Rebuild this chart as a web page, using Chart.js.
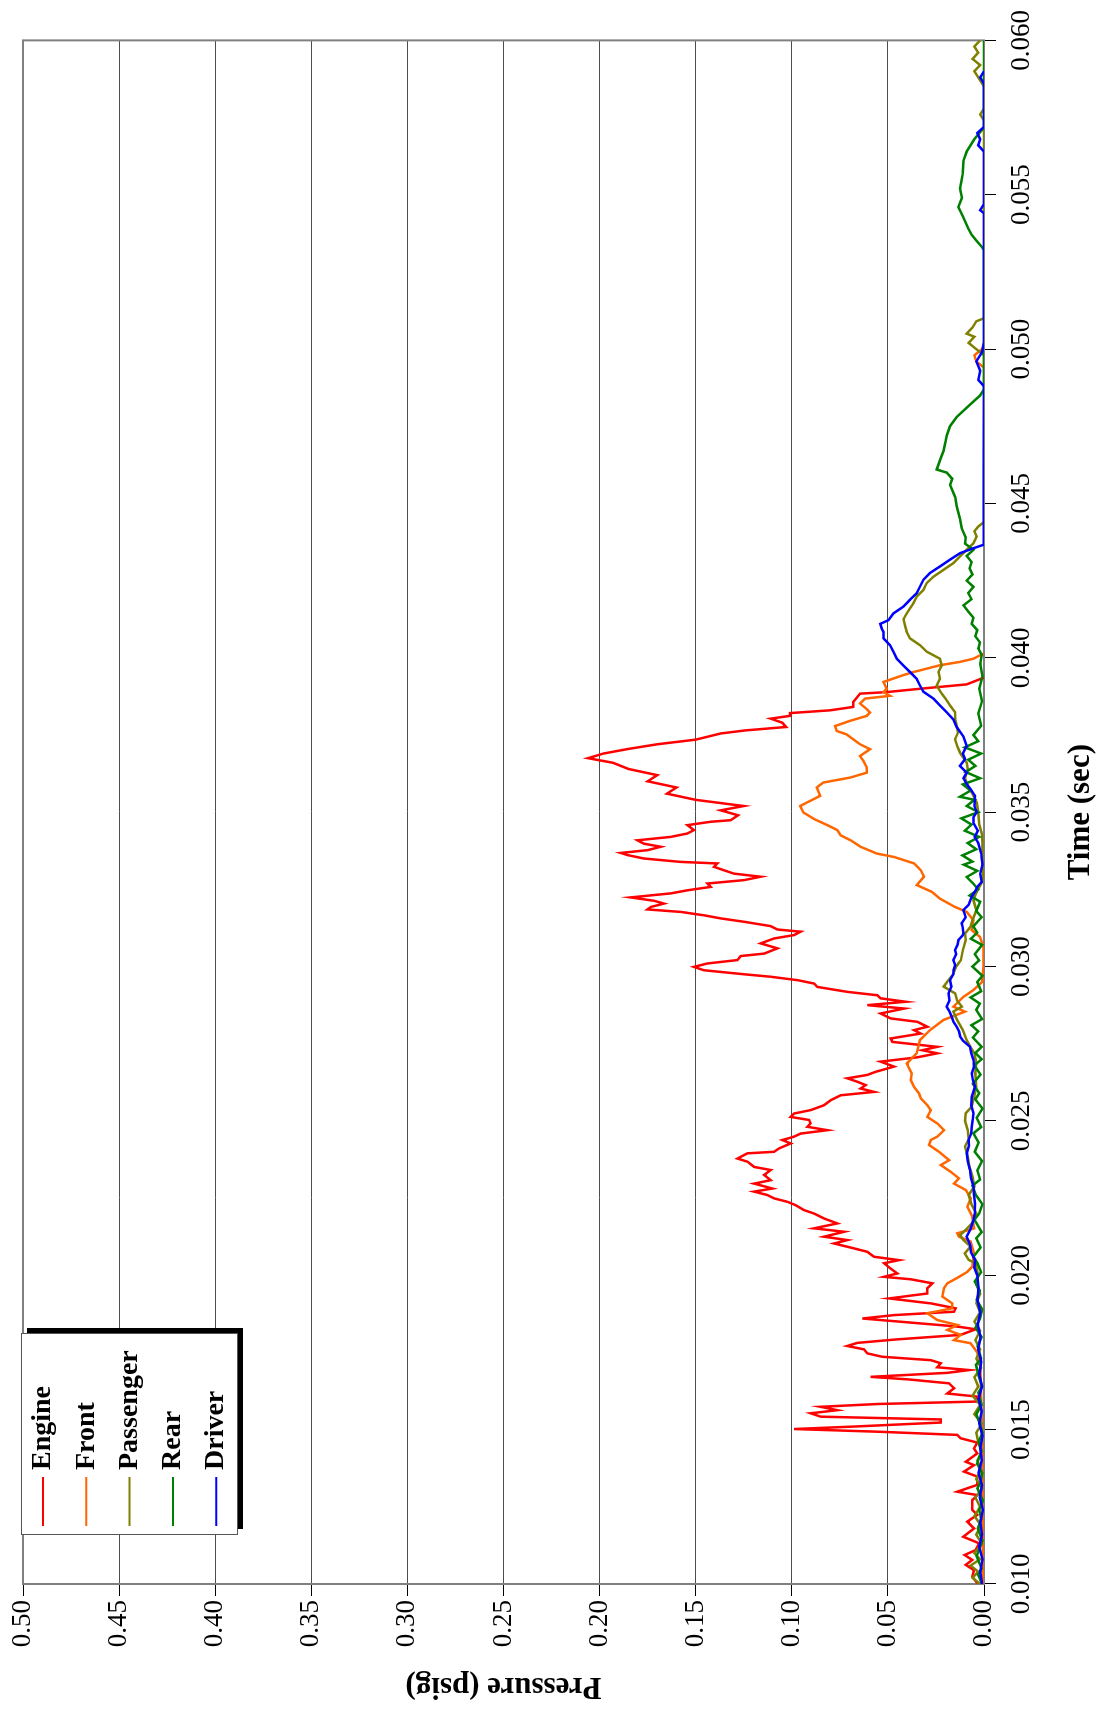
<!DOCTYPE html>
<html>
<head>
<meta charset="utf-8">
<title>Pressure vs Time</title>
<script src="https://cdn.jsdelivr.net/npm/chart.js@4.4.0/dist/chart.umd.min.js"></script>
<style>
  html, body { margin: 0; padding: 0; background: #fff; }
  body { width: 1104px; height: 1712px; overflow: hidden; position: relative; }
  /* chart is laid out landscape, then turned a quarter turn counter-clockwise */
  #wrap {
    position: absolute; left: 0; top: 0;
    width: 1712px; height: 1104px;
    transform-origin: 0 0;
    transform: translate(0px, 1712px) rotate(-90deg);
  }
</style>
</head>
<body>
<div id="wrap"><canvas id="pressureChart" width="1712" height="1104"></canvas></div>
<script>
'use strict';

// Series names, in legend order
const seriesNames = ['Engine', 'Front', 'Passenger', 'Rear', 'Driver'];

// Axis ranges / ticks
const timeRange = [0.010, 0.060];
const timeStep = 0.005;
const pressureRange = [0, 0.50];
const pressureStep = 0.05;

// [time (sec), pressure (psig)]; null = no trace
const engine = [
  [0.01002, 0.0035], [0.01024, 0.0061], [0.01045, 0.0052], [0.01062, 0.0095], [0.01078, 0.0061],
  [0.01094, 0.0101], [0.01110, 0.0043], [0.01132, 0.0026], [0.01153, 0.0108], [0.01180, 0.0052],
  [0.01202, 0.0087], [0.01224, 0.0035], [0.01240, 0.0061], [0.01272, 0.0061], [0.01288, 0.0035],
  [0.01299, 0.0139], [0.01321, 0.0035], [0.01348, 0.0035], [0.01364, 0.0104], [0.01385, 0.0052],
  [0.01396, 0.0095], [0.01423, 0.0035], [0.01439, 0.0052], [0.01458, 0.0035], [0.01472, 0.0121],
  [0.01483, 0.0139], [0.01493, 0.0538], [0.01502, 0.0988], [0.01510, 0.0676], [0.01523, 0.0225],
  [0.01533, 0.0225], [0.01542, 0.0850], [0.01553, 0.0902], [0.01563, 0.0763], [0.01574, 0.0850],
  [0.01583, 0.0555], [0.01591, 0.0035], [0.01607, 0.0035], [0.01617, 0.0191], [0.01634, 0.0156],
  [0.01650, 0.0182], [0.01663, 0.0399], [0.01671, 0.0590], [0.01684, 0.0191], [0.01693, 0.0078],
  [0.01702, 0.0243], [0.01715, 0.0225], [0.01725, 0.0277], [0.01736, 0.0529], [0.01747, 0.0607],
  [0.01760, 0.0624], [0.01771, 0.0711], [0.01781, 0.0659], [0.01792, 0.0460], [0.01807, 0.0121],
  [0.01825, 0.0043], [0.01834, 0.0139], [0.01844, 0.0329], [0.01860, 0.0633], [0.01871, 0.0468],
  [0.01882, 0.0156], [0.01893, 0.0147], [0.01909, 0.0277], [0.01925, 0.0494], [0.01941, 0.0295],
  [0.01958, 0.0295], [0.01974, 0.0269], [0.01987, 0.0381], [0.01995, 0.0520], [0.02006, 0.0451],
  [0.02022, 0.0486], [0.02039, 0.0520], [0.02049, 0.0442], [0.02060, 0.0572], [0.02076, 0.0607],
  [0.02087, 0.0676], [0.02103, 0.0780], [0.02114, 0.0711], [0.02125, 0.0832], [0.02141, 0.0728],
  [0.02152, 0.0884], [0.02168, 0.0763], [0.02184, 0.0832], [0.02200, 0.0884], [0.02211, 0.0936],
  [0.02227, 0.0980], [0.02238, 0.1023], [0.02249, 0.1092], [0.02260, 0.1127], [0.02271, 0.1196],
  [0.02281, 0.1101], [0.02297, 0.1196], [0.02308, 0.1110], [0.02325, 0.1144], [0.02341, 0.1110],
  [0.02351, 0.1196], [0.02368, 0.1231], [0.02378, 0.1283], [0.02395, 0.1231], [0.02400, 0.1092],
  [0.02411, 0.1066], [0.02427, 0.1006], [0.02438, 0.1049], [0.02449, 0.0988], [0.02459, 0.0954],
  [0.02470, 0.0815], [0.02481, 0.0919], [0.02492, 0.0902], [0.02503, 0.0910], [0.02513, 0.1006],
  [0.02524, 0.0988], [0.02535, 0.0902], [0.02551, 0.0832], [0.02567, 0.0798], [0.02583, 0.0746],
  [0.02594, 0.0572], [0.02605, 0.0642], [0.02616, 0.0616], [0.02627, 0.0659], [0.02638, 0.0711],
  [0.02649, 0.0607], [0.02659, 0.0564], [0.02676, 0.0468], [0.02692, 0.0538], [0.02706, 0.0347],
  [0.02719, 0.0243], [0.02729, 0.0321], [0.02740, 0.0243], [0.02756, 0.0477], [0.02767, 0.0486],
  [0.02783, 0.0329], [0.02794, 0.0364], [0.02805, 0.0295], [0.02821, 0.0347], [0.02832, 0.0486],
  [0.02848, 0.0538], [0.02864, 0.0416], [0.02875, 0.0607], [0.02886, 0.0407], [0.02897, 0.0538],
  [0.02907, 0.0555], [0.02918, 0.0711], [0.02934, 0.0867], [0.02945, 0.0884], [0.02956, 0.0971],
  [0.02967, 0.1110], [0.02975, 0.1248], [0.02988, 0.1457], [0.02999, 0.1509], [0.03010, 0.1439],
  [0.03021, 0.1283], [0.03034, 0.1266], [0.03042, 0.1144], [0.03059, 0.1075], [0.03075, 0.1162],
  [0.03091, 0.1092], [0.03102, 0.0988], [0.03113, 0.0954], [0.03120, 0.1075], [0.03131, 0.1110],
  [0.03145, 0.1248], [0.03156, 0.1370], [0.03166, 0.1457], [0.03177, 0.1578], [0.03185, 0.1751],
  [0.03193, 0.1734], [0.03204, 0.1665], [0.03213, 0.1717], [0.03224, 0.1838], [0.03237, 0.1630],
  [0.03247, 0.1543], [0.03258, 0.1422], [0.03269, 0.1439], [0.03280, 0.1248], [0.03291, 0.1162],
  [0.03301, 0.1301], [0.03312, 0.1353], [0.03323, 0.1405], [0.03334, 0.1387], [0.03339, 0.1578],
  [0.03350, 0.1769], [0.03361, 0.1855], [0.03368, 0.1890], [0.03377, 0.1751], [0.03388, 0.1682],
  [0.03398, 0.1769], [0.03409, 0.1803], [0.03420, 0.1630], [0.03431, 0.1543], [0.03442, 0.1509],
  [0.03458, 0.1543], [0.03469, 0.1422], [0.03474, 0.1318], [0.03490, 0.1280], [0.03506, 0.1370],
  [0.03520, 0.1250], [0.03540, 0.1500], [0.03560, 0.1650], [0.03580, 0.1600], [0.03600, 0.1750],
  [0.03620, 0.1700], [0.03640, 0.1850], [0.03660, 0.1930], [0.03675, 0.2060], [0.03690, 0.1980],
  [0.03705, 0.1850], [0.03720, 0.1700], [0.03735, 0.1500], [0.03755, 0.1370], [0.03765, 0.1240],
  [0.03776, 0.1030], [0.03790, 0.1050], [0.03803, 0.1110], [0.03812, 0.1010], [0.03821, 0.1010],
  [0.03830, 0.0800], [0.03841, 0.0680], [0.03857, 0.0680], [0.03884, 0.0645], [0.03889, 0.0506],
  [0.03900, 0.0330], [0.03914, 0.0090], [0.03936, 0.0000]
];

const front = [
  [0.01000, 0.0005], [0.01500, 0.0010], [0.01720, 0.0020], [0.01750, 0.0035], [0.01780, 0.0070],
  [0.01790, 0.0156], [0.01807, 0.0121], [0.01823, 0.0191], [0.01839, 0.0139], [0.01855, 0.0243],
  [0.01877, 0.0295], [0.01893, 0.0165], [0.01909, 0.0165], [0.01931, 0.0217], [0.01958, 0.0208],
  [0.01974, 0.0191], [0.01995, 0.0130], [0.02011, 0.0087], [0.02028, 0.0061], [0.02071, 0.0052],
  [0.02109, 0.0069], [0.02125, 0.0130], [0.02136, 0.0139], [0.02152, 0.0052], [0.02190, 0.0061],
  [0.02222, 0.0087], [0.02249, 0.0069], [0.02276, 0.0095], [0.02297, 0.0156], [0.02314, 0.0130],
  [0.02335, 0.0173], [0.02357, 0.0225], [0.02373, 0.0182], [0.02400, 0.0234], [0.02422, 0.0286],
  [0.02438, 0.0277], [0.02449, 0.0243], [0.02470, 0.0208], [0.02492, 0.0243], [0.02513, 0.0295],
  [0.02535, 0.0277], [0.02551, 0.0295], [0.02573, 0.0329], [0.02589, 0.0338], [0.02610, 0.0364],
  [0.02632, 0.0381], [0.02654, 0.0376], [0.02686, 0.0402], [0.02719, 0.0350], [0.02762, 0.0333],
  [0.02794, 0.0281], [0.02827, 0.0211], [0.02854, 0.0099], [0.02870, 0.0159], [0.02902, 0.0107],
  [0.02924, 0.0055], [0.02950, 0.0010], [0.03000, 0.0003], [0.03064, 0.0003], [0.03096, 0.0021],
  [0.03118, 0.0064], [0.03150, 0.0055], [0.03177, 0.0090], [0.03193, 0.0151], [0.03220, 0.0229],
  [0.03242, 0.0272], [0.03264, 0.0350], [0.03291, 0.0312], [0.03312, 0.0329], [0.03334, 0.0364],
  [0.03355, 0.0468], [0.03366, 0.0558], [0.03388, 0.0642], [0.03409, 0.0694], [0.03425, 0.0746],
  [0.03442, 0.0763], [0.03458, 0.0815], [0.03478, 0.0884], [0.03499, 0.0940], [0.03520, 0.0957],
  [0.03531, 0.0922], [0.03553, 0.0853], [0.03580, 0.0870], [0.03596, 0.0836], [0.03612, 0.0697],
  [0.03628, 0.0610], [0.03645, 0.0610], [0.03666, 0.0627], [0.03682, 0.0645], [0.03704, 0.0593],
  [0.03720, 0.0645], [0.03736, 0.0680], [0.03752, 0.0715], [0.03763, 0.0766], [0.03779, 0.0775],
  [0.03796, 0.0697], [0.03812, 0.0610], [0.03823, 0.0593], [0.03834, 0.0610], [0.03852, 0.0645],
  [0.03868, 0.0619], [0.03877, 0.0489], [0.03889, 0.0523], [0.03900, 0.0506], [0.03922, 0.0523],
  [0.03933, 0.0471], [0.03944, 0.0419], [0.03954, 0.0367], [0.03965, 0.0298], [0.03976, 0.0229],
  [0.03987, 0.0125], [0.03997, 0.0055], [0.04008, 0.0021], [0.04013, 0.0003], [0.04020, null],
  [0.04940, 0.0000], [0.04960, 0.0040], [0.04980, 0.0050], [0.05000, 0.0010], [0.05020, 0.0000]
];

const passenger = [
  [0.0100, 0.0020], [0.0102, 0.0060], [0.0104, 0.0030], [0.0106, 0.0070], [0.0108, 0.0020],
  [0.0110, 0.0050], [0.0113, 0.0010], [0.0116, 0.0040], [0.0119, 0.0015], [0.0122, 0.0050],
  [0.0125, 0.0020], [0.0128, 0.0045], [0.0131, 0.0010], [0.0134, 0.0040], [0.0137, 0.0015],
  [0.0140, 0.0035], [0.0143, 0.0010], [0.0146, 0.0030], [0.0149, 0.0040], [0.0152, 0.0010],
  [0.0155, 0.0050], [0.0158, 0.0020], [0.0161, 0.0060], [0.0164, 0.0030], [0.0167, 0.0050],
  [0.0170, 0.0015], [0.0173, 0.0040], [0.0176, 0.0020], [0.0179, 0.0045], [0.0182, 0.0020],
  [0.0185, 0.0050], [0.0188, 0.0020], [0.0191, 0.0040], [0.0194, 0.0020], [0.0197, 0.0040],
  [0.0200, 0.0030], [0.02039, 0.0045], [0.02050, 0.0080], [0.02071, 0.0100], [0.02093, 0.0070],
  [0.02114, 0.0107], [0.02130, 0.0124], [0.02150, 0.0090], [0.02170, 0.0060], [0.02200, 0.0040],
  [0.02230, 0.0065], [0.02260, 0.0080], [0.02287, 0.0050], [0.02320, 0.0060], [0.02350, 0.0075],
  [0.02384, 0.0085], [0.02417, 0.0099], [0.02440, 0.0080], [0.02470, 0.0085], [0.02500, 0.0099],
  [0.02525, 0.0095], [0.02546, 0.0064], [0.02580, 0.0050], [0.02611, 0.0040], [0.02654, 0.0045],
  [0.02690, 0.0040], [0.02719, 0.0050], [0.02740, 0.0070], [0.02762, 0.0090], [0.02794, 0.0110],
  [0.02827, 0.0140], [0.02854, 0.0160], [0.02870, 0.0115], [0.02890, 0.0140], [0.02913, 0.0150],
  [0.02935, 0.0210], [0.02956, 0.0185], [0.02975, 0.0160], [0.03000, 0.0145], [0.03021, 0.0120],
  [0.03053, 0.0110], [0.03086, 0.0095], [0.03107, 0.0099], [0.03129, 0.0070], [0.03150, 0.0060],
  [0.03183, 0.0040], [0.03215, 0.0055], [0.03240, 0.0040], [0.03274, 0.0010], [0.03300, 0.0005],
  [0.03350, 0.0010], [0.03400, 0.0008], [0.03431, 0.0012], [0.03460, 0.0025], [0.03500, 0.0030],
  [0.03531, 0.0038], [0.03560, 0.0060], [0.03580, 0.0082], [0.03610, 0.0099], [0.03640, 0.0085],
  [0.03660, 0.0090], [0.03693, 0.0125], [0.03715, 0.0140], [0.03736, 0.0151], [0.03758, 0.0135],
  [0.03779, 0.0142], [0.03800, 0.0150], [0.03824, 0.0151], [0.03846, 0.0177], [0.03868, 0.0200],
  [0.03884, 0.0220], [0.03910, 0.0246], [0.03932, 0.0229], [0.03954, 0.0237], [0.03975, 0.0220],
  [0.03997, 0.0229], [0.04020, 0.0298], [0.04041, 0.0333], [0.04063, 0.0385], [0.04084, 0.0402],
  [0.04105, 0.0411], [0.04125, 0.0419], [0.04144, 0.0402], [0.04160, 0.0385], [0.04177, 0.0367],
  [0.04198, 0.0350], [0.04220, 0.0315], [0.04242, 0.0298], [0.04263, 0.0263], [0.04285, 0.0211],
  [0.04307, 0.0159], [0.04328, 0.0125], [0.04350, 0.0090], [0.04371, 0.0055], [0.04393, 0.0038],
  [0.04410, 0.0050], [0.04425, 0.0030], [0.04440, 0.0000], [0.04980, 0.0000], [0.05000, 0.0040],
  [0.05020, 0.0080], [0.05040, 0.0050], [0.05050, 0.0090], [0.05070, 0.0060], [0.05090, 0.0040],
  [0.05100, 0.0000], [0.05740, 0.0000], [0.05760, 0.0020], [0.05780, 0.0000], [0.05850, 0.0000],
  [0.05880, 0.0030], [0.05900, 0.0050], [0.05920, 0.0020], [0.05940, 0.0060], [0.05960, 0.0030],
  [0.05980, 0.0050], [0.06000, 0.0020]
];

const rear = [
  [0.0100, 0.0010], [0.0103, 0.0030], [0.0105, 0.0012], [0.0109, 0.0038], [0.0112, 0.0020],
  [0.0114, 0.0008], [0.0118, 0.0032], [0.0121, 0.0015], [0.0124, 0.0025], [0.0127, 0.0006],
  [0.0131, 0.0034], [0.0133, 0.0018], [0.0136, 0.0010], [0.0139, 0.0036], [0.0143, 0.0014],
  [0.0146, 0.0028], [0.0149, 0.0008], [0.0152, 0.0022], [0.0155, 0.0040], [0.0158, 0.0012],
  [0.0162, 0.0030], [0.0164, 0.0010], [0.0167, 0.0026], [0.0171, 0.0042], [0.0173, 0.0015],
  [0.0177, 0.0033], [0.0180, 0.0012], [0.0183, 0.0045], [0.0186, 0.0020], [0.0189, 0.0010],
  [0.0192, 0.0038], [0.0195, 0.0022], [0.0198, 0.0048], [0.0201, 0.0015], [0.0204, 0.0035],
  [0.0206, 0.0055], [0.0209, 0.0018], [0.0212, 0.0040], [0.0214, 0.0012], [0.0218, 0.0050],
  [0.0220, 0.0025], [0.0223, 0.0008], [0.0226, 0.0042], [0.0229, 0.0060], [0.0231, 0.0020],
  [0.0234, 0.0035], [0.0237, 0.0010], [0.0240, 0.0048], [0.0243, 0.0028], [0.0246, 0.0055],
  [0.0248, 0.0015], [0.0251, 0.0038], [0.0254, 0.0008], [0.0257, 0.0045], [0.0259, 0.0025],
  [0.0262, 0.0058], [0.0265, 0.0018], [0.0268, 0.0050], [0.0270, 0.0012], [0.0272, 0.0045],
  [0.0274, 0.0012], [0.0277, 0.0058], [0.0279, 0.0030], [0.0281, 0.0066], [0.0283, 0.0010],
  [0.0286, 0.0040], [0.0288, 0.0022], [0.0290, 0.0070], [0.0292, 0.0015], [0.0295, 0.0035],
  [0.0297, 0.0008], [0.0300, 0.0060], [0.0302, 0.0025], [0.0304, 0.0048], [0.0307, 0.0010],
  [0.0309, 0.0068], [0.0311, 0.0035], [0.0313, 0.0055], [0.0316, 0.0012], [0.0318, 0.0040],
  [0.0321, 0.0020], [0.0323, 0.0075], [0.0325, 0.0030], [0.0327, 0.0058], [0.0329, 0.0090],
  [0.0331, 0.0035], [0.0333, 0.0105], [0.0334, 0.0060], [0.0336, 0.0112], [0.0338, 0.0040],
  [0.0340, 0.0085], [0.0342, 0.0025], [0.0344, 0.0100], [0.0346, 0.0065], [0.0348, 0.0118],
  [0.0350, 0.0030], [0.0352, 0.0090], [0.0354, 0.0050], [0.0355, 0.0125], [0.0357, 0.0070],
  [0.0359, 0.0110], [0.0361, 0.0020], [0.0363, 0.0095], [0.0365, 0.0045], [0.0367, 0.0082],
  [0.0369, 0.0015], [0.0371, 0.0100], [0.0373, 0.0030], [0.0375, 0.0055], [0.0378, 0.0015],
  [0.0382, 0.0030], [0.0386, 0.0010], [0.0390, 0.0025], [0.0394, 0.0008], [0.0398, 0.0020],
  [0.0401, 0.0012], [0.0403, 0.0029], [0.0405, 0.0021], [0.0407, 0.0045], [0.0409, 0.0035],
  [0.0411, 0.0064], [0.0413, 0.0055], [0.0415, 0.0082], [0.0417, 0.0107], [0.0419, 0.0065],
  [0.0421, 0.0082], [0.0423, 0.0055], [0.0425, 0.0090], [0.0427, 0.0060], [0.0429, 0.0075],
  [0.0431, 0.0064], [0.0433, 0.0090], [0.0435, 0.0055], [0.0437, 0.0099], [0.0439, 0.0095],
  [0.0442, 0.0116], [0.0445, 0.0125], [0.0449, 0.0142], [0.0452, 0.0150], [0.0456, 0.0177],
  [0.0458, 0.0165], [0.0460, 0.0194], [0.0461, 0.0246], [0.0464, 0.0229], [0.0467, 0.0211],
  [0.0470, 0.0200], [0.0472, 0.0194], [0.0475, 0.0177], [0.0478, 0.0142], [0.0481, 0.0090],
  [0.0483, 0.0055], [0.0485, 0.0020], [0.0487, 0.0000], [0.0532, 0.0000], [0.0533, 0.0010],
  [0.0535, 0.0038], [0.0537, 0.0064], [0.0539, 0.0081], [0.0543, 0.0110], [0.0546, 0.0133],
  [0.0549, 0.0115], [0.0552, 0.0125], [0.0555, 0.0116], [0.0557, 0.0110], [0.0561, 0.0107],
  [0.0564, 0.0090], [0.0568, 0.0050], [0.0571, 0.0010], [0.0572, 0.0000], [0.0600, 0.0000]
];

const driver = [
  [0.0100, 0.0010], [0.0104, 0.0020], [0.0108, 0.0008], [0.0112, 0.0025], [0.0116, 0.0010],
  [0.0120, 0.0020], [0.0124, 0.0006], [0.0128, 0.0022], [0.0132, 0.0010], [0.0136, 0.0028],
  [0.0140, 0.0012], [0.0144, 0.0020], [0.0148, 0.0008], [0.0152, 0.0025], [0.0156, 0.0012],
  [0.0160, 0.0028], [0.0164, 0.0010], [0.0168, 0.0024], [0.0172, 0.0015], [0.0176, 0.0030],
  [0.0180, 0.0018], [0.0184, 0.0032], [0.0188, 0.0020], [0.0192, 0.0034], [0.0196, 0.0028],
  [0.0200, 0.0035], [0.02025, 0.0050], [0.02050, 0.0047], [0.02075, 0.0068], [0.02100, 0.0073],
  [0.02125, 0.0090], [0.02150, 0.0070], [0.02179, 0.0055], [0.02200, 0.0048], [0.02233, 0.0047],
  [0.02260, 0.0052], [0.02287, 0.0055], [0.02315, 0.0068], [0.02341, 0.0073], [0.02370, 0.0085],
  [0.02395, 0.0090], [0.02420, 0.0078], [0.02438, 0.0081], [0.02460, 0.0066], [0.02481, 0.0064],
  [0.02505, 0.0058], [0.02525, 0.0055], [0.02550, 0.0066], [0.02578, 0.0064], [0.02611, 0.0047],
  [0.02632, 0.0058], [0.02654, 0.0064], [0.02675, 0.0052], [0.02697, 0.0055], [0.02720, 0.0066],
  [0.02740, 0.0073], [0.02760, 0.0110], [0.02773, 0.0124], [0.02790, 0.0130], [0.02805, 0.0142],
  [0.02820, 0.0158], [0.02837, 0.0168], [0.02855, 0.0180], [0.02870, 0.0194], [0.02890, 0.0180],
  [0.02913, 0.0185], [0.02935, 0.0170], [0.02956, 0.0177], [0.02975, 0.0160], [0.02988, 0.0159],
  [0.03005, 0.0150], [0.03021, 0.0159], [0.03040, 0.0145], [0.03053, 0.0151], [0.03070, 0.0138],
  [0.03086, 0.0133], [0.03100, 0.0112], [0.03107, 0.0107], [0.03125, 0.0110], [0.03140, 0.0116],
  [0.03160, 0.0095], [0.03183, 0.0107], [0.03200, 0.0080], [0.03226, 0.0064], [0.03245, 0.0045],
  [0.03258, 0.0035], [0.03274, 0.0012], [0.03300, 0.0020], [0.03330, 0.0008], [0.03366, 0.0015],
  [0.03400, 0.0030], [0.03420, 0.0048], [0.03440, 0.0032], [0.03465, 0.0055], [0.03484, 0.0055],
  [0.03500, 0.0038], [0.03520, 0.0050], [0.03553, 0.0047], [0.03575, 0.0070], [0.03591, 0.0090],
  [0.03610, 0.0107], [0.03628, 0.0090], [0.03650, 0.0125], [0.03672, 0.0099], [0.03690, 0.0110],
  [0.03715, 0.0090], [0.03745, 0.0107], [0.03776, 0.0142], [0.03800, 0.0159], [0.03824, 0.0194],
  [0.03846, 0.0229], [0.03868, 0.0263], [0.03890, 0.0315], [0.03910, 0.0333], [0.03932, 0.0350],
  [0.03954, 0.0385], [0.03975, 0.0419], [0.03997, 0.0454], [0.04020, 0.0471], [0.04041, 0.0489],
  [0.04063, 0.0523], [0.04084, 0.0523], [0.04095, 0.0532], [0.04110, 0.0540], [0.04122, 0.0497],
  [0.04144, 0.0471], [0.04166, 0.0419], [0.04188, 0.0385], [0.04209, 0.0350], [0.04231, 0.0333],
  [0.04253, 0.0315], [0.04275, 0.0281], [0.04296, 0.0229], [0.04318, 0.0177], [0.04339, 0.0125],
  [0.04355, 0.0055], [0.04366, 0.0003], [0.04880, 0.0000], [0.04900, 0.0030], [0.04930, 0.0020],
  [0.04960, 0.0040], [0.04990, 0.0010], [0.05020, 0.0000], [0.05440, 0.0000], [0.05450, 0.0020],
  [0.05470, 0.0000], [0.05640, 0.0000], [0.05660, 0.0030], [0.05680, 0.0020], [0.05700, 0.0035],
  [0.05720, 0.0000], [0.05860, 0.0000], [0.05880, 0.0020], [0.05900, 0.0000]
];

// Line colors
const seriesColors = ['#ff0000', '#ff6600', '#808000', '#008000', '#0000ff'];
const seriesData = [engine, front, passenger, rear, driver];

const serif = "'Liberation Serif', 'Times New Roman', serif";

// Plot frame (grey box round the plot area)
const framePlugin = {
  id: 'frame',
  beforeDatasetsDraw(chart) {
    const { ctx, chartArea: a } = chart;
    ctx.save();
    ctx.strokeStyle = '#808080';
    ctx.lineWidth = 2;
    ctx.strokeRect(a.left, a.top, a.right - a.left, a.bottom - a.top);
    ctx.restore();
  }
};

// Legend box with drop shadow, in the upper left corner of the plot
const boxLegend = {
  id: 'boxLegend',
  afterDatasetsDraw(chart) {
    const ctx = chart.ctx;
    const x = 177, y = 21, w = 201, h = 216;
    ctx.save();
    ctx.fillStyle = '#000';
    ctx.fillRect(x + 6, y + 6, w, h);
    ctx.fillStyle = '#fff';
    ctx.fillRect(x, y, w, h);
    ctx.strokeStyle = '#555';
    ctx.lineWidth = 1;
    ctx.strokeRect(x + 0.5, y + 0.5, w, h);
    ctx.font = 'bold 28px ' + serif;
    ctx.textBaseline = 'middle';
    ctx.textAlign = 'left';
    chart.data.datasets.forEach((ds, i) => {
      const cy = y + 22 + i * 43.3;
      ctx.strokeStyle = ds.borderColor;
      ctx.lineWidth = 2;
      ctx.beginPath();
      ctx.moveTo(x + 9, cy);
      ctx.lineTo(x + 58, cy);
      ctx.stroke();
      ctx.fillStyle = '#000';
      ctx.fillText(ds.label, x + 65, cy);
    });
    ctx.restore();
  }
};

const ctx = document.getElementById('pressureChart');

new Chart(ctx, {
  type: 'line',
  data: {
    datasets: seriesNames.map((name, i) => ({
      label: name,
      data: seriesData[i].map(([t, p]) => ({ x: t, y: p })),
      borderColor: seriesColors[i],
      backgroundColor: seriesColors[i],
      borderWidth: 2.5,
      pointRadius: 0,
      tension: 0,
      fill: false,
      spanGaps: false,
      order: seriesNames.length - i
    }))
  },
  options: {
    responsive: false,
    animation: false,
    devicePixelRatio: 1,
    layout: { padding: { top: 23, right: 40, left: 0, bottom: 0 } },
    plugins: {
      legend: { display: false },
      tooltip: { enabled: false }
    },
    scales: {
      x: {
        type: 'linear',
        position: 'bottom',
        min: timeRange[0],
        max: timeRange[1],
        afterFit: s => { s.height = 120; },
        ticks: {
          stepSize: timeStep,
          autoSkip: false,
          maxRotation: 0,
          padding: 10,
          color: '#000',
          font: { family: serif, size: 27 },
          callback: v => Number(v).toFixed(3)
        },
        grid: { drawOnChartArea: false, drawTicks: true, tickLength: 12, color: '#000' },
        border: { display: true, color: '#808080', width: 2 },
        title: {
          display: true,
          text: 'Time (sec)',
          color: '#000',
          font: { family: serif, size: 31, weight: 'bold' },
          padding: { top: 0, bottom: 4 }
        }
      },
      y: {
        type: 'linear',
        position: 'left',
        min: pressureRange[0],
        max: pressureRange[1],
        afterFit: s => { s.width = 128; },
        ticks: {
          stepSize: pressureStep,
          padding: 4,
          color: '#000',
          font: { family: serif, size: 27 },
          callback: v => Number(v).toFixed(2)
        },
        grid: { color: '#4d4d4d', lineWidth: 1, drawTicks: true, tickLength: 12, tickColor: '#000' },
        border: { display: true, color: '#808080', width: 2 },
        title: {
          display: true,
          text: 'Pressure (psig)',
          color: '#000',
          font: { family: serif, size: 31, weight: 'bold' },
          padding: { top: 7, bottom: 0 }
        }
      }
    }
  },
  plugins: [framePlugin, boxLegend]
});
</script>
</body>
</html>
